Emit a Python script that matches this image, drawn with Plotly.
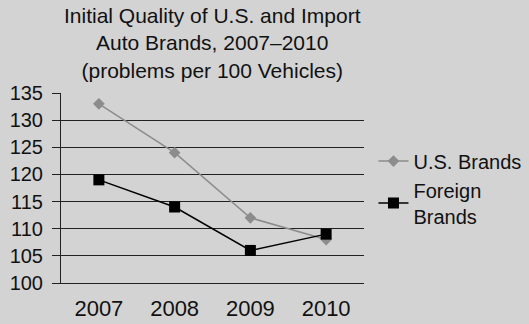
import plotly.graph_objects as go

years = ["2007", "2008", "2009", "2010"]
us_brands = [133, 124, 112, 108]
foreign_brands = [119, 114, 106, 109]
y_ticks = [100, 105, 110, 115, 120, 125, 130, 135]

title_text = "Initial Quality of U.S. and Import<br>Auto Brands, 2007\u20132010<br>(problems per 100 Vehicles)"

xpos = list(range(len(years)))
bounds = [i - 0.5 for i in range(len(years) + 1)]

fig = go.Figure()
fig.add_trace(go.Scatter(
    x=xpos, y=us_brands, name="U.S. Brands", mode="lines+markers",
    line=dict(color="#8c8c8c", width=1.5),
    marker=dict(symbol="diamond", size=9, color="#8c8c8c"),
))
fig.add_trace(go.Scatter(
    x=xpos, y=foreign_brands, name="Foreign<br>Brands", mode="lines+markers",
    line=dict(color="#000000", width=1.5),
    marker=dict(symbol="square", size=11, color="#000000"),
))

font = "Liberation Sans, Arial, sans-serif"
bg = "#d3d3d3"
fig.update_layout(
    width=529, height=324,
    paper_bgcolor=bg, plot_bgcolor=bg,
    margin=dict(l=61, r=165, t=93, b=41, autoexpand=False),
    font=dict(family=font, size=20, color="#111111"),
    showlegend=True,
    legend=dict(xref="container", yref="container", x=0.706, xanchor="left",
                y=0.418, yanchor="middle",
                bgcolor="rgba(0,0,0,0)", font=dict(size=20, family=font),
                tracegroupgap=0, itemwidth=30),
    annotations=[dict(text=title_text, xref="paper", yref="paper", x=0.5, y=1.045,
                      xanchor="center", yanchor="bottom", showarrow=False,
                      font=dict(size=21, family=font, color="#111111"))],
    xaxis=dict(range=[-0.5, 3.5], tickmode="array", tickvals=xpos, ticktext=years,
               ticks="", showgrid=False, zeroline=False, showline=True,
               linecolor="#222222", linewidth=1, tickfont=dict(size=22),
               ticklabelstandoff=6, automargin=False),
    xaxis2=dict(range=[-0.5, 3.5], overlaying="x", anchor="y", side="bottom",
                tickmode="array", tickvals=bounds, ticks="outside", ticklen=9,
                tickcolor="#222222", tickwidth=1.2, showticklabels=False,
                showgrid=False, zeroline=False, showline=False, automargin=False),
    xaxis3=dict(range=[-0.5, 3.5], overlaying="x", anchor="y", side="bottom",
                tickmode="array", tickvals=bounds, ticks="inside", ticklen=6,
                tickcolor="#222222", tickwidth=1.2, showticklabels=False,
                showgrid=False, zeroline=False, showline=False, automargin=False),
    yaxis=dict(range=[100, 135], tickmode="array", tickvals=y_ticks,
               ticks="outside", ticklen=8, tickcolor="#222222", tickwidth=1.2,
               showgrid=True, gridcolor="#222222", gridwidth=1,
               zeroline=False, showline=True, linecolor="#222222", linewidth=1,
               tickfont=dict(size=20), ticklabelstandoff=5, automargin=False),
)

fig.write_html("out.html", config={"displayModeBar": False},
               post_script="document.body.style.margin='0';document.body.style.background='%s';" % bg)
